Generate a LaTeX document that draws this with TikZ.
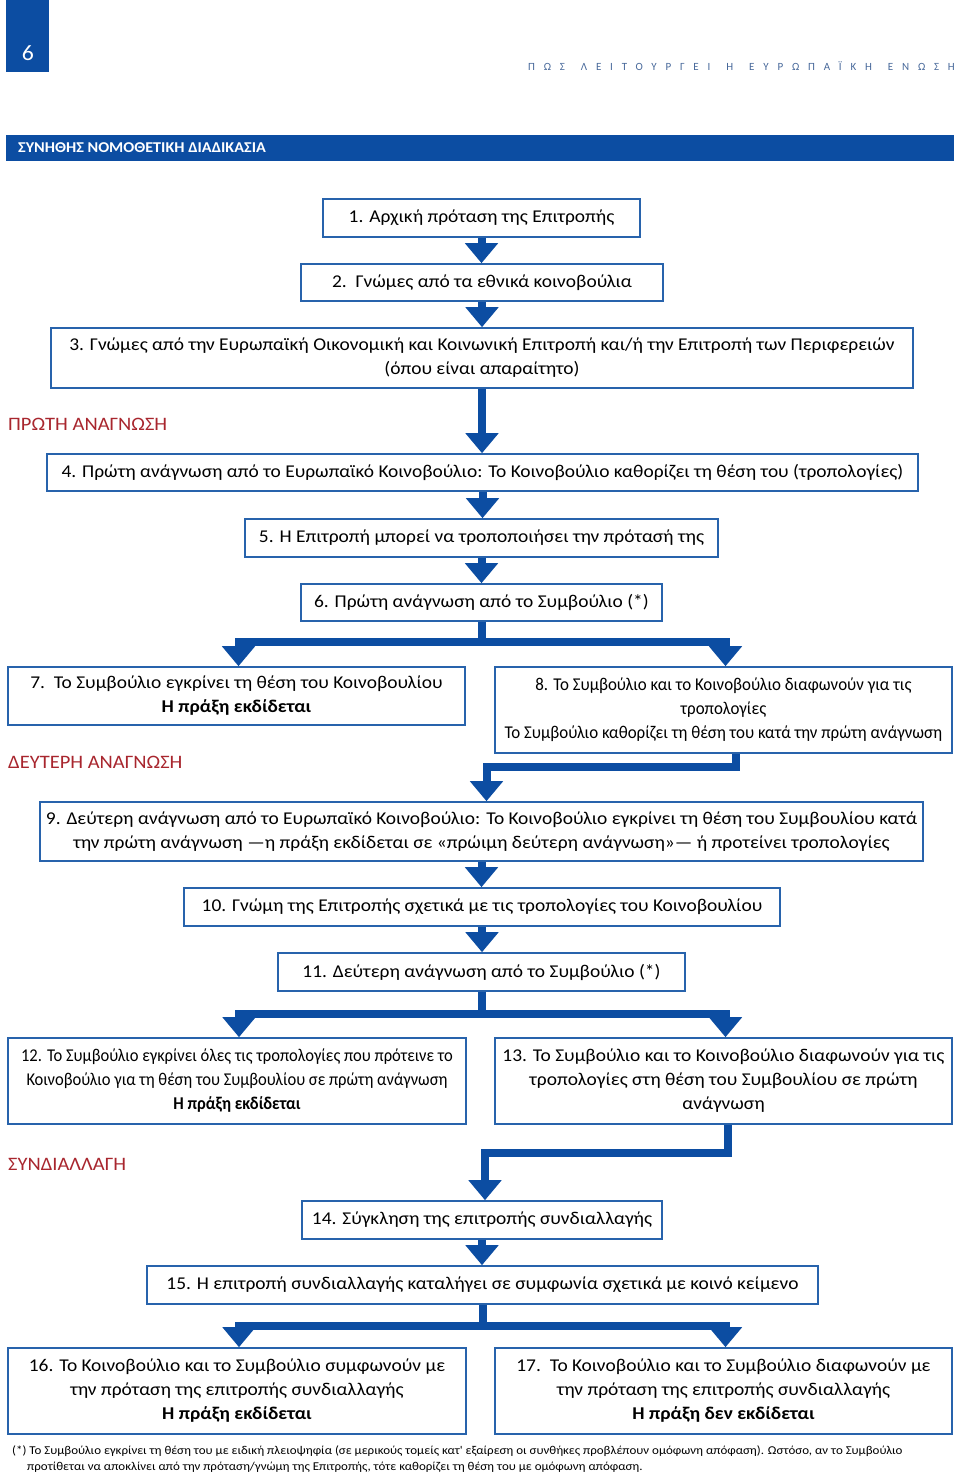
\documentclass[tikz,border=0pt]{standalone}
\usepackage{fontspec}
\setmainfont{Carlito}
\newfontfamily\widefont[FakeStretch=1.08]{Carlito}
\newfontfamily\nearfont[FakeStretch=0.94]{Carlito}
\newfontfamily\narrowfont[FakeStretch=0.92]{Carlito}
\newfontfamily\spacedfont[LetterSpace=80]{Carlito}
\usetikzlibrary{arrows.meta}

\definecolor{eublue}{HTML}{0C4DA2}
\definecolor{boxblue}{HTML}{2863AC}
\definecolor{stagered}{HTML}{A8262E}
\definecolor{headgray}{HTML}{47689A}

\tikzstyle{stepbox} = [draw=boxblue,line width=1.6pt,fill=white,inner sep=0pt,align=center,font=\fontsize{18}{24}\widefont]
\tikzstyle{flow} = [draw=eublue,line width=8pt,-{Triangle[width=32pt,length=20pt]}]
\tikzstyle{stage} = [anchor=west,inner sep=0pt,text=stagered,font=\fontsize{19}{20}\widefont]

\begin{document}
\begin{tikzpicture}[x=1pt,y=-1pt]
      \useasboundingbox (0,0) rectangle (960,1480);
      %header
      \node[fill=eublue,anchor=north west,minimum width=43pt,minimum height=72pt,inner sep=0pt] (pagebox) at (6,0) {};
      \node[text=white,font=\fontsize{22}{22}\widefont] (pagenum) at (28,53) {6};
      \node[anchor=east,inner sep=0pt,text=headgray,font=\fontsize{11}{11}\spacedfont] (booktitle) at (955,66) {ΠΩΣ\hspace{16pt}ΛΕΙΤΟΥΡΓΕΙ\hspace{16pt}Η\hspace{16pt}ΕΥΡΩΠΑΪΚΗ\hspace{16pt}ΕΝΩΣΗ};
      \node[fill=eublue,anchor=north west,minimum width=948pt,minimum height=26pt,inner sep=0pt] (titlebar) at (6,135) {};
      \node[anchor=west,inner sep=0pt,text=white,font=\fontsize{15}{15}\widefont\bfseries] (title) at (18,148) {ΣΥΝΗΘΗΣ ΝΟΜΟΘΕΤΙΚΗ ΔΙΑΔΙΚΑΣΙΑ};

      %stages
      \node[stage] (first) at (8,424) {ΠΡΩΤΗ ΑΝΑΓΝΩΣΗ};
      \node[stage] (second) at (8,762) {ΔΕΥΤΕΡΗ ΑΝΑΓΝΩΣΗ};
      \node[stage] (concil) at (8,1164) {ΣΥΝΔΙΑΛΛΑΓΗ};

      %steps
      \node[stepbox,minimum width=317pt,minimum height=38pt] (b1) at (481.5,218) {1. Αρχική πρόταση της Επιτροπής};
      \node[stepbox,minimum width=362pt,minimum height=37pt] (b2) at (482,282.5) {2.\ \ Γνώμες από τα εθνικά κοινοβούλια};
      \node[stepbox,minimum width=862pt,minimum height=60pt] (b3) at (482,358) {3. Γνώμες από την Ευρωπαϊκή Οικονομική και Κοινωνική Επιτροπή και/ή την Επιτροπή των Περιφερειών\\(όπου είναι απαραίτητο)};
      \node[stepbox,minimum width=871pt,minimum height=37pt] (b4) at (482.5,472.5) {4. Πρώτη ανάγνωση από το Ευρωπαϊκό Κοινοβούλιο: Το Κοινοβούλιο καθορίζει τη θέση του (τροπολογίες)};
      \node[stepbox,minimum width=473pt,minimum height=38pt] (b5) at (481.5,538) {5. Η Επιτροπή μπορεί να τροποποιήσει την πρότασή της};
      \node[stepbox,minimum width=361pt,minimum height=37pt] (b6) at (481.5,602.5) {6. Πρώτη ανάγνωση από το Συμβούλιο (*)};
      \node[stepbox,minimum width=457pt,minimum height=58pt] (b7) at (236.5,696) {7.\ \ Το Συμβούλιο εγκρίνει τη θέση του Κοινοβουλίου\\\textbf{Η πράξη εκδίδεται}};
      \node[stepbox,minimum width=457pt,minimum height=86pt,font=\fontsize{18}{24}\nearfont] (b8) at (723.5,710) {8. Το Συμβούλιο και το Κοινοβούλιο διαφωνούν για τις\\τροπολογίες\\Το Συμβούλιο καθορίζει τη θέση του κατά την πρώτη ανάγνωση};
      \node[stepbox,minimum width=883pt,minimum height=59pt] (b9) at (481.5,831.5) {9. Δεύτερη ανάγνωση από το Ευρωπαϊκό Κοινοβούλιο: Το Κοινοβούλιο εγκρίνει τη θέση του Συμβουλίου κατά\\την πρώτη ανάγνωση —η πράξη εκδίδεται σε «πρώιμη δεύτερη ανάγνωση»— ή προτείνει τροπολογίες};
      \node[stepbox,minimum width=596pt,minimum height=38pt] (b10) at (482,907) {10. Γνώμη της Επιτροπής σχετικά με τις τροπολογίες του Κοινοβουλίου};
      \node[stepbox,minimum width=407pt,minimum height=38pt] (b11) at (481.5,972) {11. Δεύτερη ανάγνωση από το Συμβούλιο (*)};
      \node[stepbox,minimum width=458pt,minimum height=86pt,font=\fontsize{18}{24}\narrowfont] (b12) at (237,1081) {12. Το Συμβούλιο εγκρίνει όλες τις τροπολογίες που πρότεινε το\\Κοινοβούλιο για τη θέση του Συμβουλίου σε πρώτη ανάγνωση\\\textbf{Η πράξη εκδίδεται}};
      \node[stepbox,minimum width=457pt,minimum height=86pt] (b13) at (723.5,1081) {13. Το Συμβούλιο και το Κοινοβούλιο διαφωνούν για τις\\τροπολογίες στη θέση του Συμβουλίου σε πρώτη\\ανάγνωση};
      \node[stepbox,minimum width=360pt,minimum height=38pt] (b14) at (482,1220) {14. Σύγκληση της επιτροπής συνδιαλλαγής};
      \node[stepbox,minimum width=671pt,minimum height=38pt] (b15) at (482.5,1285) {15. Η επιτροπή συνδιαλλαγής καταλήγει σε συμφωνία σχετικά με κοινό κείμενο};
      \node[stepbox,minimum width=458pt,minimum height=86pt] (b16) at (237,1391) {16. Το Κοινοβούλιο και το Συμβούλιο συμφωνούν με\\την πρόταση της επιτροπής συνδιαλλαγής\\\textbf{Η πράξη εκδίδεται}};
      \node[stepbox,minimum width=457pt,minimum height=86pt] (b17) at (723.5,1391) {17.\ \ Το Κοινοβούλιο και το Συμβούλιο διαφωνούν με\\την πρόταση της επιτροπής συνδιαλλαγής\\\textbf{Η πράξη δεν εκδίδεται}};

      %footnote
      \node[anchor=north west,inner sep=0pt,align=left,font=\fontsize{12}{16}\widefont] (note) at (12,1446) {(*) Το Συμβούλιο εγκρίνει τη θέση του με ειδική πλειοψηφία (σε μερικούς τομείς κατ' εξαίρεση οι συνθήκες προβλέπουν ομόφωνη απόφαση). Ωστόσο, αν το Συμβούλιο\\\hspace*{15pt}προτίθεται να αποκλίνει από την πρόταση/γνώμη της Επιτροπής, τότε καθορίζει τη θέση του με ομόφωνη απόφαση.};

      %arrows
      \foreach \from/\to in {b1/b2, b2/b3, b3/b4, b4/b5, b5/b6, b9/b10, b10/b11, b14/b15}
      {
        \draw[flow] (\from.south) -- (\from.south |- \to.north);
      };
      \foreach \from/\left/\right/\drop in {b6/b7/b8/20, b11/b12/b13/22, b15/b16/b17/21}
      {
        \draw[flow] (\from.south) -- ++(0,\drop) -| ([xshift=2pt]\left.north);
        \draw[flow] (\from.south) -- ++(0,\drop) -| ([xshift=2pt]\right.north);
      };
      \draw[flow] ([xshift=12pt]b8.south) -- ++(0,13) -| ([xshift=5pt]b9.north);
      \draw[flow] ([xshift=4pt]b13.south) -- ++(0,28) -| ([xshift=3pt]b14.north);
    \end{tikzpicture}
\end{document}
